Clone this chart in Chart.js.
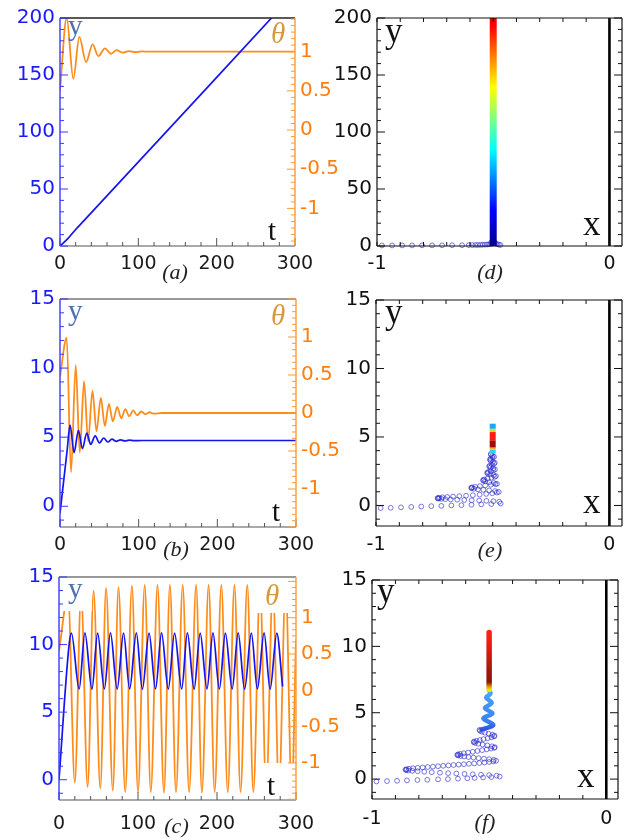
<!DOCTYPE html>
<html>
<head>
<meta charset="utf-8">
<script src="https://cdn.jsdelivr.net/npm/chart.js@4.4.1/dist/chart.umd.min.js"></script>
<style>
  html, body { margin: 0; padding: 0; background: #ffffff; }
  #fig { position: relative; width: 633px; height: 840px; overflow: hidden; background: #ffffff; }
  #fig canvas { position: absolute; }
</style>
</head>
<body>
<div id="fig">
  <canvas id="pa" width="350" height="290" style="left:0px;top:0px"></canvas>
  <canvas id="pb" width="350" height="290" style="left:0px;top:280px"></canvas>
  <canvas id="pc" width="350" height="280" style="left:0px;top:560px"></canvas>
  <canvas id="pd" width="313" height="290" style="left:320px;top:0px"></canvas>
  <canvas id="pe" width="313" height="290" style="left:320px;top:280px"></canvas>
  <canvas id="pf" width="313" height="280" style="left:320px;top:560px"></canvas>
</div>
<script>
// ================= DATA =================
// tick labels
const tTickLabels = [0, 100, 200, 300];
const yTickLabelsA = [0, 50, 100, 150, 200];
const yTickLabelsBC = [0, 5, 10, 15];
const thetaTickLabels = [-1, -0.5, 0, 0.5, 1];
const xTickLabelsRight = [-1, 0];

// (a) time series
const tA_y = [0, 10, 20, 30, 270];
const yA = [0, 6.5, 14.5, 21.8, 200];
const tA_theta = [0, 8.5, 17, 24.7, 33.2, 41.7, 48.9, 57.4, 65.1, 72.3, 80, 88, 96, 104, 115, 300];
const thetaA = [0.5, 1.43, 0.655, 1.19, 0.867, 1.093, 0.943, 1.042, 0.974, 1.02, 0.987, 1.008, 0.995, 1.003, 1.0, 1.0];

// (b) time series
const tB_y = [0, 9, 12.8, 17.9, 23.4, 28.5, 34, 39, 44.7, 50.2, 55.5, 60.8, 66, 71.5, 77, 82, 88, 94, 105, 300];
const yB = [-0.5, 4.0, 5.87, 3.88, 5.5, 4.17, 5.3, 4.48, 5.09, 4.58, 4.94, 4.65, 4.86, 4.7, 4.81, 4.73, 4.78, 4.75, 4.76, 4.76];
const tB_theta = [0, 8.5, 14, 20, 25.1, 30.6, 35.7, 41.3, 46.4, 51.9, 57, 62.2, 67.2, 72.7, 77.9, 83, 88, 93, 98, 103.5, 108.5, 114, 119, 130, 300];
const thetaB = [0.48, 0.99, -0.78, 0.63, -0.52, 0.42, -0.37, 0.29, -0.24, 0.2, -0.17, 0.12, -0.11, 0.08, -0.07, 0.05, -0.045, 0.035, -0.03, 0.02, -0.015, 0.01, -0.008, 0, 0];

// (c) time series
const tC_y = [0, 12.8, 15.7, 25.5, 32.8, 41.7, 48.9, 57.4, 65.1, 73.6, 81.7, 89.4, 97.9, 105.5, 114, 122.2, 129.8, 138.3, 146.3, 155.3, 162.5, 171, 178.7, 187.3, 194.9, 203, 210.6, 219.2, 226.8, 234.9, 243.5, 251.1, 259.6, 267.2, 275.7, 283, 291.5, 300];
const yC = [0, 10.0,
  10.85, 6.72, 10.87, 6.7, 10.85, 6.72, 10.86, 6.71, 10.85, 6.72, 10.87, 6.7, 10.85, 6.72, 10.86, 6.71,
  10.85, 6.72, 10.87, 6.7, 10.85, 6.72, 10.86, 6.71, 10.85, 6.72, 10.87, 6.7, 10.85, 6.72, 10.86, 6.71,
  10.85, 6.9];
const tC_theta = [0, 11.5, 20, 28, 36.2, 43.8, 52.3, 59.6, 68.1, 75.3, 83.8, 92.3, 100, 108.5, 116.2, 124.7, 132.8, 140.4, 148.1, 156.6, 164.7, 173.6, 180.9, 189.4, 197, 205.5, 213.6, 222.1, 229.8, 238.3, 246, 254.5, 262.2, 270.7, 278.4, 286.9, 294.6, 300];
const thetaC = [0.54,
  1.3, -1.27, 1.34, -1.33, 1.37, -1.35, 1.41, -1.38, 1.42, -1.4, 1.44, -1.4, 1.45, -1.4, 1.45, -1.41, 1.45, -1.4,
  1.45, -1.4, 1.45, -1.41, 1.45, -1.4, 1.45, -1.4, 1.45, -1.4, 1.45, -1.4, 1.45, -1.4, 1.45, -1.4, 1.45, -1.4,
  0.7];

// (d) trajectory
const wallX = 0;
const dPoints = [[-0.979,0.5],[-0.935,0.5],[-0.892,0.5],[-0.849,0.5],[-0.806,0.6],[-0.763,0.6],[-0.720,0.6],[-0.677,0.7],[-0.634,0.7],[-0.605,0.8],[-0.590,0.8],[-0.577,0.9],[-0.566,0.9],[-0.555,1.0],[-0.545,1.1],[-0.535,1.2],[-0.526,1.3],[-0.518,1.5],[-0.510,1.8],[-0.503,2.2],[-0.497,2.7],[-0.490,2.1],[-0.483,1.6],[-0.476,1.2],[-0.469,0.9],[-0.508,3.2],[-0.495,3.7],[-0.503,4.5]];
const dColumnX = -0.5;
const dColumnY = [0, 200];
const dColumnStopY = [0, 31, 85, 112, 139, 166, 193, 200];
const dColumnStopColor = ['#00008f', '#0000ff', '#00ffff', '#80ff80', '#ffff00', '#ff8000', '#ff0000', '#ee0000'];

// (e) trajectory
const ePoints = [
  [-0.980,-0.19],[-0.937,-0.17],[-0.893,-0.14],[-0.849,-0.11],[-0.806,-0.08],[-0.763,-0.05],[-0.720,-0.03],[-0.677,0.00],[-0.634,0.02],[-0.591,0.05],[-0.549,0.08],[-0.506,0.10],[-0.466,0.14],
  [-0.472,0.27],[-0.497,0.31],[-0.527,0.34],[-0.558,0.36],[-0.590,0.38],[-0.622,0.40],[-0.652,0.42],[-0.680,0.44],[-0.703,0.46],[-0.720,0.48],[-0.731,0.50],[-0.736,0.52],[-0.735,0.54],[-0.729,0.56],
  [-0.715,0.59],[-0.695,0.62],[-0.670,0.65],[-0.643,0.68],[-0.614,0.71],[-0.585,0.75],[-0.556,0.79],[-0.528,0.84],[-0.502,0.89],[-0.482,0.94],[-0.474,0.99],
  [-0.490,1.05],[-0.515,1.10],[-0.540,1.14],[-0.563,1.18],[-0.580,1.22],[-0.590,1.26],[-0.592,1.29],[-0.588,1.32],
  [-0.575,1.36],[-0.555,1.41],[-0.532,1.46],[-0.508,1.51],[-0.488,1.55],[-0.482,1.58],
  [-0.495,1.64],[-0.515,1.70],[-0.532,1.76],[-0.540,1.81],[-0.541,1.86],[-0.536,1.90],
  [-0.522,1.96],[-0.505,2.03],[-0.491,2.09],[-0.486,2.15],
  [-0.496,2.21],[-0.511,2.27],[-0.521,2.33],[-0.524,2.39],[-0.520,2.44],
  [-0.508,2.50],[-0.496,2.57],[-0.490,2.63],
  [-0.498,2.70],[-0.509,2.77],[-0.515,2.84],[-0.513,2.90],
  [-0.503,2.97],[-0.494,3.05],[-0.491,3.12],
  [-0.499,3.19],[-0.509,3.27],[-0.512,3.35],[-0.509,3.41],
  [-0.500,3.48],[-0.494,3.55],
  [-0.500,3.62],[-0.507,3.69],[-0.508,3.76]
];
const eColumnY = [3.79, 4.08, 4.23, 4.76, 5.36, 5.6, 5.97];
const eColumnColors = ['#28d4ff', '#ffb020', '#a00c0c', '#ff1c14', '#c8e028', '#1ea6f2'];

// (f) trajectory
const fPoints = [
  [-0.981,-0.18],[-0.936,-0.15],[-0.893,-0.13],[-0.851,-0.10],[-0.806,-0.07],[-0.764,-0.05],[-0.718,-0.02],[-0.676,0.00],[-0.633,0.03],[-0.593,0.06],[-0.562,0.09],[-0.526,0.12],[-0.491,0.15],[-0.455,0.19],
  [-0.468,0.26],[-0.500,0.30],[-0.535,0.33],[-0.570,0.36],[-0.605,0.39],[-0.640,0.42],[-0.675,0.45],[-0.710,0.48],[-0.745,0.52],[-0.777,0.55],[-0.805,0.59],[-0.828,0.62],[-0.845,0.65],[-0.854,0.68],[-0.857,0.71],[-0.853,0.74],
  [-0.842,0.78],[-0.825,0.82],[-0.805,0.85],[-0.784,0.88],[-0.762,0.91],[-0.740,0.94],[-0.718,0.97],[-0.696,1.00],[-0.674,1.03],[-0.652,1.06],[-0.630,1.09],[-0.608,1.12],[-0.586,1.15],[-0.564,1.18],[-0.542,1.21],[-0.520,1.25],[-0.500,1.29],[-0.482,1.33],[-0.470,1.38],
  [-0.480,1.45],[-0.500,1.50],[-0.522,1.54],[-0.545,1.58],[-0.567,1.62],[-0.588,1.66],[-0.607,1.70],[-0.622,1.74],[-0.632,1.78],[-0.636,1.82],[-0.633,1.86],
  [-0.624,1.90],[-0.608,1.95],[-0.590,2.00],[-0.570,2.06],[-0.550,2.12],[-0.530,2.18],[-0.510,2.24],[-0.492,2.30],[-0.478,2.36],[-0.476,2.40],
  [-0.488,2.47],[-0.508,2.54],[-0.528,2.60],[-0.546,2.66],[-0.560,2.72],[-0.566,2.78],[-0.564,2.83],
  [-0.554,2.88],[-0.540,2.94],[-0.524,3.01],[-0.506,3.08],[-0.490,3.15],[-0.479,3.22],[-0.477,3.27],
  [-0.486,3.34],[-0.502,3.42],[-0.518,3.50],[-0.531,3.57],[-0.539,3.64],[-0.541,3.70]
];
const fTube = [[-0.541,3.70],[-0.482,4.08],[-0.525,4.58],[-0.486,4.95],[-0.518,5.35],[-0.489,5.75],[-0.513,6.15],[-0.494,6.45],[-0.503,6.75]];
const fTubeStopY = [3.7, 4.3, 6.75];
const fTubeStopColor = ['#3050e0', '#3a80f0', '#4aa8f8'];
const fColumnX = -0.5;
const fColumnY = [6.75, 11.05];
const fColumnStopY = [6.75, 6.95, 7.3, 8.3, 9.3, 10.2, 11.05];
const fColumnStopColor = ['#f2e200', '#e0a000', '#8a1608', '#a01a0a', '#cc1a0a', '#ee1c0c', '#ff2412'];

// ================= HELPERS =================
const BLUE = '#1414f0';
const ORANGE = '#ff8c1a';
const SERIF = '"Liberation Serif", "Times New Roman", serif';
Chart.defaults.font.family = '"DejaVu Sans", sans-serif';

function pairs(xs, ys) { return xs.map((x, i) => ({x: x, y: ys[i]})); }
function pts(arr) { return arr.map(p => ({x: p[0], y: p[1]})); }
function near(v, list) { return list.some(u => Math.abs(u - v) < 1e-6); }
function fmt(v) { const r = Math.round(v * 1000) / 1000; return String(r === 0 ? 0 : r); }
function tickLabel(list) { return v => near(v, list) ? fmt(v) : ''; }
function buildTicks(min, max, step) {
  const out = [];
  const k0 = Math.ceil(min / step - 1e-9), k1 = Math.floor(max / step + 1e-9);
  for (let k = k0; k <= k1; k++) out.push({value: Math.round(k * step * 1e6) / 1e6});
  return out;
}
function vGradient(stopsY, colors) {
  return function(ctx) {
    const chart = ctx.chart;
    if (!chart.chartArea) return colors[colors.length - 1];
    const sc = chart.scales.y;
    const p0 = sc.getPixelForValue(stopsY[0]);
    const p1 = sc.getPixelForValue(stopsY[stopsY.length - 1]);
    const g = chart.ctx.createLinearGradient(0, p0, 0, p1);
    const span = stopsY[stopsY.length - 1] - stopsY[0];
    stopsY.forEach((y, i) => g.addColorStop((y - stopsY[0]) / span, colors[i]));
    return g;
  };
}

const framePlugin = {
  id: 'frame',
  afterDraw(chart, args, opts) {
    const ctx = chart.ctx, A = chart.chartArea;
    ctx.save();
    ctx.lineCap = 'butt';
    for (const s of (opts.sides || [])) {
      ctx.strokeStyle = s.color;
      ctx.lineWidth = s.width || 1.2;
      ctx.beginPath();
      if (s.edge === 'bottom') { ctx.moveTo(A.left, A.bottom); ctx.lineTo(A.right, A.bottom); }
      if (s.edge === 'top') { ctx.moveTo(A.left, A.top); ctx.lineTo(A.right, A.top); }
      if (s.edge === 'left') { ctx.moveTo(A.left, A.top); ctx.lineTo(A.left, A.bottom); }
      if (s.edge === 'right') { ctx.moveTo(A.right, A.top); ctx.lineTo(A.right, A.bottom); }
      ctx.stroke();
      if (!s.scale) continue;
      const sc = chart.scales[s.scale];
      ctx.lineWidth = 1;
      ctx.beginPath();
      for (const t of sc.ticks) {
        const v = t.value;
        const major = s.major && Math.abs(Math.round(v / s.major) * s.major - v) < 1e-6;
        const len = major ? s.majorLen : s.minorLen;
        const p = sc.getPixelForValue(v);
        if (s.edge === 'bottom') { ctx.moveTo(p, A.bottom); ctx.lineTo(p, A.bottom - len); }
        if (s.edge === 'top') { ctx.moveTo(p, A.top); ctx.lineTo(p, A.top + len); }
        if (s.edge === 'left') { ctx.moveTo(A.left, p); ctx.lineTo(A.left + len, p); }
        if (s.edge === 'right') { ctx.moveTo(A.right, p); ctx.lineTo(A.right - len, p); }
      }
      ctx.stroke();
    }
    ctx.restore();
  }
};

const textPlugin = {
  id: 'texts',
  afterDatasetsDraw(chart, args, opts) {
    const ctx = chart.ctx;
    ctx.save();
    ctx.fillStyle = '#ffffff';
    for (const b of (opts.boxes || [])) ctx.fillRect(b[0], b[1], b[2], b[3]);
    for (const it of (opts.items || [])) {
      ctx.font = it.font;
      ctx.fillStyle = it.color;
      ctx.textAlign = it.align || 'left';
      ctx.textBaseline = 'alphabetic';
      ctx.fillText(it.text, it.x, it.y);
    }
    ctx.restore();
  }
};

function leftPanel(id, P) {
  const W = 350;
  return new Chart(document.getElementById(id), {
    type: 'line',
    data: {
      datasets: [
        { data: pairs(P.tY, P.y), yAxisID: 'y', borderColor: BLUE, borderWidth: 1.7, pointRadius: 0,
          cubicInterpolationMode: 'monotone', fill: false },
        { data: pairs(P.tTheta, P.theta), yAxisID: 'y2', borderColor: ORANGE, borderWidth: 1.8, pointRadius: 0,
          cubicInterpolationMode: 'monotone', fill: false }
      ]
    },
    options: {
      responsive: false, animation: false, events: [],
      layout: { padding: { top: P.top, right: 0, bottom: 0, left: 0 } },
      plugins: {
        legend: { display: false }, tooltip: { enabled: false },
        frame: { sides: [
          { edge: 'top', color: P.topColor, width: 1.3 },
          { edge: 'bottom', scale: 'x', color: '#555', width: 1.2, major: 100, minorLen: 4, majorLen: 8 },
          { edge: 'left', scale: 'y', color: '#3a3aff', width: 1.4, major: P.yMajor, minorLen: 4, majorLen: 8 },
          { edge: 'right', scale: 'y2', color: '#ff9a33', width: 1.4, major: 0.5, minorLen: 4, majorLen: 8 }
        ] },
        texts: { boxes: P.boxes || [], items: P.items }
      },
      scales: {
        x: { type: 'linear', position: 'bottom', min: 0, max: 300,
          grid: { display: false, drawTicks: false }, border: { display: false },
          afterBuildTicks: s => { s.ticks = buildTicks(0, 300, 20); },
          afterFit: s => { s.height = P.xH; },
          ticks: { autoSkip: false, maxRotation: 0, padding: P.xPad, color: '#1a1a1a', font: { size: 19 },
            callback: tickLabel(tTickLabels) } },
        y: { type: 'linear', position: 'left', min: P.yMin, max: P.yMax,
          grid: { display: false, drawTicks: false }, border: { display: false },
          afterBuildTicks: s => { s.ticks = buildTicks(P.yMin, P.yMax, P.yStep); },
          afterFit: s => { s.width = P.left; },
          ticks: { autoSkip: false, padding: 5, color: '#1a1aff', font: { size: 20 },
            callback: tickLabel(P.yLabels) } },
        y2: { type: 'linear', position: 'right', min: P.thMin, max: P.thMax,
          grid: { display: false, drawTicks: false }, border: { display: false },
          afterBuildTicks: s => { s.ticks = buildTicks(P.thMin, P.thMax, 1 / 12); },
          afterFit: s => { s.width = W - P.right; },
          ticks: { autoSkip: false, padding: 5, color: '#ff7f0e', font: { size: 20 },
            callback: tickLabel(thetaTickLabels) } }
      }
    },
    plugins: [framePlugin, textPlugin]
  });
}

function rightPanel(id, P) {
  const datasets = [
    { data: [{x: wallX, y: P.yMin}, {x: wallX, y: P.yMax}], borderColor: '#000000', borderWidth: 2.6,
      pointRadius: 0, showLine: true, tension: 0 }
  ].concat(P.extra).concat([
    { data: pts(P.points), showLine: false, pointRadius: 2.4, pointBorderWidth: 1,
      pointBorderColor: 'rgba(40,40,200,0.62)', pointBackgroundColor: 'rgba(255,255,255,0)', clip: false }
  ]);
  return new Chart(document.getElementById(id), {
    type: 'line',
    data: { datasets: datasets },
    options: {
      responsive: false, animation: false, events: [],
      layout: { padding: { top: P.top, right: P.padRight, bottom: 0, left: 0 } },
      plugins: {
        legend: { display: false }, tooltip: { enabled: false },
        frame: { sides: [
          { edge: 'top', scale: 'x', color: '#111', width: 1.2, major: 0, minorLen: 4, majorLen: 4 },
          { edge: 'bottom', scale: 'x', color: '#111', width: 1.2, major: 0, minorLen: 4, majorLen: 4 },
          { edge: 'left', scale: 'y', color: '#111', width: 1.2, major: P.yMajor, minorLen: 4, majorLen: 8 },
          { edge: 'right', scale: 'y', color: '#111', width: 1.2, major: P.yMajor, minorLen: 4, majorLen: 8 }
        ] },
        texts: { items: P.items }
      },
      scales: {
        x: { type: 'linear', position: 'bottom', min: -1, max: P.xMax,
          grid: { display: false, drawTicks: false }, border: { display: false },
          afterBuildTicks: s => { s.ticks = buildTicks(-1, 0, 0.1); },
          afterFit: s => { s.height = P.xH; },
          ticks: { autoSkip: false, maxRotation: 0, padding: P.xPad, color: '#111', font: { size: 19 },
            callback: tickLabel(xTickLabelsRight) } },
        y: { type: 'linear', position: 'left', min: P.yMin, max: P.yMax,
          grid: { display: false, drawTicks: false }, border: { display: false },
          afterBuildTicks: s => { s.ticks = buildTicks(P.yMin, P.yMax, P.yStep); },
          afterFit: s => { s.width = P.left; },
          ticks: { autoSkip: false, padding: 5, color: '#111', font: { size: 20 },
            callback: tickLabel(P.yLabels) } }
      }
    },
    plugins: [framePlugin, textPlugin]
  });
}

function lbl(text, x, y, size, color, italic, align) {
  return { text: text, x: x, y: y, color: color, align: align || 'left',
    font: (italic ? 'italic ' : '') + size + 'px ' + SERIF };
}
const YCOL = '#4d72ad', THCOL = '#d8983a';

// ================= PANELS =================
leftPanel('pa', { tY: tA_y, y: yA, tTheta: tA_theta, theta: thetaA,
  top: 18, xH: 44, left: 60, right: 295, xPad: 7, topColor: '#222',
  yMin: 0, yMax: 200, yStep: 10, yMajor: 50, yLabels: yTickLabelsA, thMin: -1.48, thMax: 1.43,
  items: [lbl('y', 68, 35, 29, YCOL), lbl('θ', 271, 43, 29, THCOL, true), lbl('t', 268, 240, 29, '#111'),
          lbl('(a)', 175, 279, 22, '#222', true, 'center')] });

leftPanel('pb', { tY: tB_y, y: yB, tTheta: tB_theta, theta: thetaB,
  top: 19, xH: 43, left: 60, right: 296, xPad: 7, topColor: '#777',
  yMin: -1.5, yMax: 15, yStep: 1, yMajor: 5, yLabels: yTickLabelsBC, thMin: -1.5, thMax: 1.5,
  items: [lbl('y', 68, 40, 29, YCOL), lbl('θ', 271, 45, 29, THCOL, true), lbl('t', 272, 241, 29, '#111'),
          lbl('(b)', 176, 276, 22, '#222', true, 'center')] });

leftPanel('pc', { tY: tC_y, y: yC, tTheta: tC_theta, theta: thetaC,
  top: 15, xH: 40, left: 59, right: 296, xPad: 13, topColor: '#777',
  yMin: -1.5, yMax: 15, yStep: 1, yMajor: 5, yLabels: yTickLabelsBC, thMin: -1.51, thMax: 1.56,
  boxes: [[59, 15, 33, 36], [257, 15, 39, 38], [258, 203, 38, 37]],
  items: [lbl('y', 68, 38, 29, YCOL), lbl('θ', 265, 45, 29, THCOL, true), lbl('t', 267, 235, 29, '#111'),
          lbl('(c)', 176.5, 273, 22, '#222', true, 'center')] });

rightPanel('pd', {
  top: 18, xH: 44, left: 57, padRight: 11, xMax: 0.054, xPad: 7,
  yMin: 0, yMax: 200, yStep: 10, yMajor: 50, yLabels: yTickLabelsA,
  points: dPoints,
  extra: [
    { data: dColumnY.map(y => ({x: dColumnX, y: y})), showLine: true, tension: 0, pointRadius: 0,
      borderWidth: 7, borderCapStyle: 'round', borderColor: vGradient(dColumnStopY, dColumnStopColor) }
  ],
  items: [lbl('y', 65, 42, 35, '#111'), lbl('x', 263, 235, 35, '#111'), lbl('(d)', 170, 279, 22, '#222', true, 'center')] });

rightPanel('pe', {
  top: 20, xH: 44, left: 56, padRight: 11, xMax: 0.054, xPad: 8,
  yMin: -1.5, yMax: 15, yStep: 1, yMajor: 5, yLabels: yTickLabelsBC,
  points: ePoints,
  extra: [
    { data: eColumnY.map(y => ({x: -0.5, y: y})), showLine: true, tension: 0, pointRadius: 0,
      borderWidth: 6, borderCapStyle: 'butt', borderColor: '#ff1c14',
      segment: { borderColor: c => eColumnColors[c.p0DataIndex] } }
  ],
  items: [lbl('y', 65, 43, 35, '#111'), lbl('x', 263, 233, 35, '#111'), lbl('(e)', 170, 277, 22, '#222', true, 'center')] });

rightPanel('pf', {
  top: 20, xH: 41, left: 52, padRight: 15, xMax: 0.05, xPad: 9,
  yMin: -1.5, yMax: 15, yStep: 1, yMajor: 5, yLabels: yTickLabelsBC,
  points: fPoints,
  extra: [
    { data: fColumnY.map(y => ({x: fColumnX, y: y})), showLine: true, tension: 0, pointRadius: 0,
      borderWidth: 5.5, borderCapStyle: 'round', borderColor: vGradient(fColumnStopY, fColumnStopColor) },
    { data: pts(fTube), indexAxis: 'y', showLine: true, pointRadius: 0, cubicInterpolationMode: 'monotone',
      borderWidth: 4.5, borderColor: vGradient(fTubeStopY, fTubeStopColor) }
  ],
  items: [lbl('y', 57, 42, 35, '#111'), lbl('x', 257, 227, 35, '#111'), lbl('(f)', 165, 269, 22, '#222', true, 'center')] });
</script>
</body>
</html>
